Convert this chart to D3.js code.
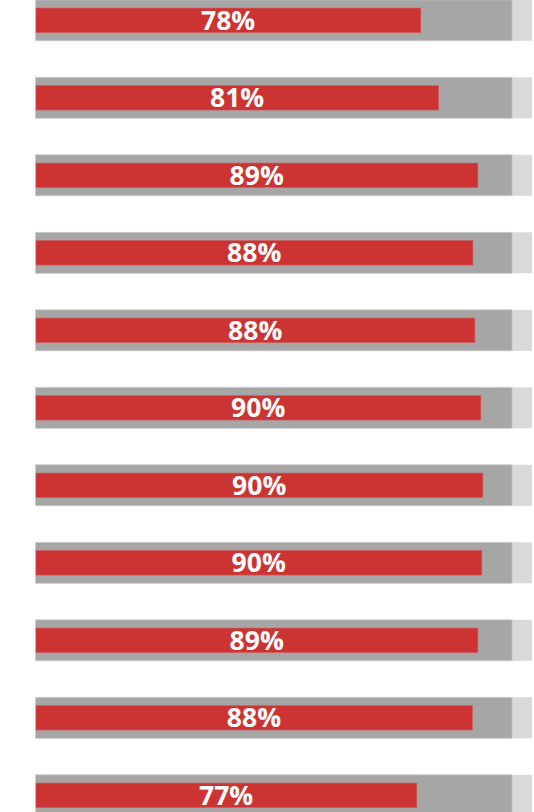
<!DOCTYPE html>
<html>
<head>
<meta charset="utf-8">
<script src="https://cdn.jsdelivr.net/npm/d3@7"></script>
<style>
  html, body { margin: 0; padding: 0; background: #ffffff; }
  svg { display: block; }
</style>
</head>
<body>
<svg></svg>
<script>
var width = 534,
	height = 812;

// rows, top to bottom (no visible category labels)
var rows = [1, 2, 3, 4, 5, 6, 7, 8, 9, 10, 11];
// red bar values (%)
var values = [77.6, 81.2, 89.1, 88.1, 88.5, 89.7, 90.1, 89.9, 89.1, 88.0, 76.8];
// printed labels
var labels = ["78%", "81%", "89%", "88%", "88%", "90%", "90%", "90%", "89%", "88%", "77%"];
// grey background series
var targets = [96, 96, 96, 96, 96, 96, 96, 96, 96, 96, 96];
var fullScale = [100, 100, 100, 100, 100, 100, 100, 100, 100, 100, 100];

var svg = d3.select("svg")
			.attr("width", width)
			.attr("height", height);

var x = d3.scaleLinear()
			.domain([0, 100])
			.range([35.5, 532]);

var y = d3.scaleBand()
			.domain(rows)
			.range([-0.2, 815.8])
			.paddingInner(0.471)
			.paddingOuter(0);

var redH = 24.5;

var g = svg.append("g");

// light grey 100% bars
g.selectAll("rect.full")
	.data(rows)
	.enter()
	.append("rect")
	.attr("class", "full")
	.attr("x", x(0))
	.attr("y", function(d) { return y(d); })
	.attr("width", function(d, i) { return x(fullScale[i]) - x(0); })
	.attr("height", y.bandwidth())
	.attr("fill", "#d9d9d9");

// dark grey bars
g.selectAll("rect.target")
	.data(rows)
	.enter()
	.append("rect")
	.attr("class", "target")
	.attr("x", x(0))
	.attr("y", function(d) { return y(d); })
	.attr("width", function(d, i) { return x(targets[i]) - x(0); })
	.attr("height", y.bandwidth())
	.attr("fill", "#a6a6a6")
	.attr("stroke", "#cfcfcf")
	.attr("stroke-width", 0.8);

// red value bars
g.selectAll("rect.value")
	.data(rows)
	.enter()
	.append("rect")
	.attr("class", "value")
	.attr("x", x(0) + 0.5)
	.attr("y", function(d) { return y(d) + (y.bandwidth() - redH) / 2; })
	.attr("width", function(d, i) { return x(values[i]) - x(0) - 0.5; })
	.attr("height", redH)
	.attr("fill", "#cc3333")
	.attr("stroke", "#d35c5c")
	.attr("stroke-width", 0.6);

// labels centred on red bars
g.selectAll("text")
	.data(rows)
	.enter()
	.append("text")
	.attr("x", function(d, i) { return (x(0) + x(values[i])) / 2; })
	.attr("y", function(d) { return y(d) + y.bandwidth() / 2 + 9.5; })
	.attr("text-anchor", "middle")
	.style("font-family", "'Open Sans', Lato, sans-serif")
	.style("font-weight", "bold")
	.style("font-size", "26.5px")
	.style("fill", "#ffffff")
	.text(function(d, i) { return labels[i]; });
</script>
</body>
</html>
